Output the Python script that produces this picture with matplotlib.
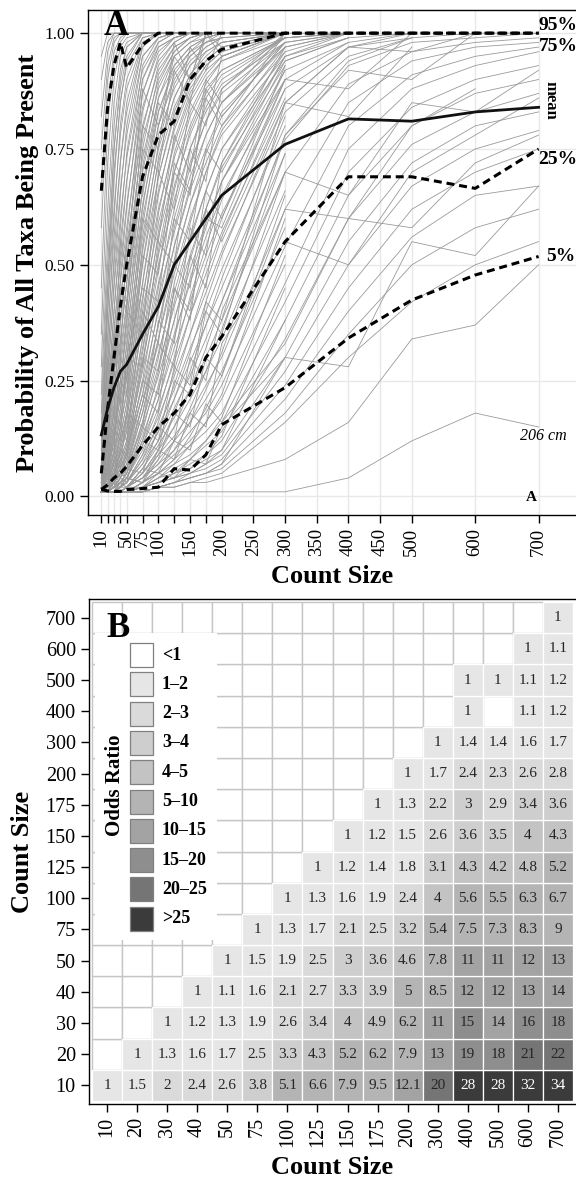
import numpy as np
import matplotlib
matplotlib.use("Agg")
import matplotlib.pyplot as plt
from matplotlib.patches import Rectangle

plt.rcParams.update({
    "font.family": "serif", "font.serif": ["Liberation Serif", "DejaVu Serif"],
    "axes.linewidth": 1.0, "xtick.major.width": 1.0, "ytick.major.width": 1.0,
    "xtick.major.size": 6, "ytick.major.size": 6,
})

# ---------------- panel A data ----------------
COUNTS = [10, 20, 30, 40, 50, 75, 100, 125, 150, 175, 200, 300, 400, 500, 600, 700]
XTICKS = [10, 20, 30, 40, 50, 75, 100, 125, 150, 175, 200, 250, 300, 350, 400,
          450, 500, 600, 700]
XTICK_LABELS = ["10", "", "", "", "50", "75", "100", "", "150", "", "200", "250",
                "300", "350", "400", "450", "500", "600", "700"]

# one list per site, values at COUNTS (a site stops where its list ends)
sites = [
    [.95, 1, 1, 1, 1, 1, 1, 1, 1, 1, 1, 1],
    [.90, .98, 1, 1, 1, 1, 1, 1, 1, 1, 1],
    [.82, .96, 1, 1, 1, 1, 1, 1, 1, 1, 1, 1],
    [.75, .93, .99, 1, 1, 1, 1, 1, 1, 1, 1],
    [.66, .90, .98, 1, 1, 1, 1, 1, 1, 1, 1, 1],
    [.58, .85, .96, .99, 1, 1, 1, 1, 1, 1, 1],
    [.45, .80, .94, .98, 1, 1, 1, 1, 1, 1, 1, 1],
    [.35, .72, .90, .97, .99, 1, 1, 1, 1, 1, 1],
    [.28, .62, .85, .95, .98, 1, 1, 1, 1, 1, 1, 1],
    [.22, .55, .80, .92, .97, 1, 1, 1, 1, 1, 1],
    [.18, .50, .75, .88, .95, 1, 1, 1, 1, 1, 1, 1],
    [.15, .45, .70, .85, .93, .99, 1, 1, 1, 1, 1],
    [.12, .40, .62, .78, .88, .98, 1, 1, 1, 1, 1, 1],
    [.10, .35, .56, .72, .83, .97, 1, 1, 1, 1, 1],
    [.08, .30, .50, .66, .78, .95, .99, 1, 1, 1, 1, 1],
    [.07, .26, .45, .60, .73, .92, .98, 1, 1, 1, 1],
    [.06, .22, .40, .55, .68, .90, .97, .99, 1, 1, 1, 1],
    [.05, .20, .36, .50, .63, .87, .96, .99, 1, 1, 1],
    [.05, .18, .33, .46, .58, .84, .94, .98, 1, 1, 1, 1],
    [.04, .15, .29, .42, .54, .80, .92, .97, .99, 1, 1],
    [.04, .13, .26, .38, .50, .77, .90, .96, .99, 1, 1, 1],
    [.03, .12, .23, .34, .46, .73, .88, .95, .98, .99, 1],
    [.03, .10, .20, .31, .42, .70, .86, .93, .97, .99, 1, 1],
    [.03, .09, .18, .28, .38, .66, .83, .92, .96, .98, 1],
    [.02, .08, .16, .25, .35, .63, .80, .90, .95, .98, .99, 1],
    [.02, .07, .14, .23, .32, .60, .78, .88, .94, .97, .99],
    [.02, .06, .13, .21, .30, .56, .75, .86, .93, .96, .98, 1],
    [.02, .06, .12, .19, .27, .53, .72, .84, .91, .95, .98, 1],
    [.02, .05, .10, .17, .25, .50, .69, .82, .90, .94, .97, 1],
    [.01, .05, .09, .15, .22, .46, .66, .79, .88, .93, .96, 1],
    [.01, .04, .08, .13, .20, .43, .62, .76, .86, .92, .95, 1],
    [.01, .04, .07, .12, .18, .40, .59, .73, .83, .90, .94, .99, 1],
    [.01, .03, .07, .11, .17, .37, .56, .70, .80, .88, .92, .99],
    [.01, .03, .06, .10, .15, .34, .52, .67, .78, .86, .91, .99, 1],
    [.01, .03, .05, .09, .14, .32, .50, .64, .75, .83, .89, .98],
    [.01, .02, .05, .08, .12, .29, .46, .60, .72, .81, .87, .98, 1],
    [.01, .02, .04, .07, .11, .27, .43, .57, .69, .78, .85, .97],
    [.01, .02, .04, .06, .10, .24, .40, .54, .66, .75, .83, .97, 1],
    [.01, .02, .03, .06, .09, .22, .37, .51, .63, .72, .80, .96],
    [.01, .02, .03, .05, .08, .20, .34, .48, .60, .70, .78, .95, .99],
    [.01, .01, .03, .05, .07, .18, .31, .44, .56, .66, .75, .94, .99, 1],
    [.01, .01, .02, .04, .06, .16, .28, .41, .52, .62, .71, .93],
    [.01, .01, .02, .04, .06, .15, .26, .38, .49, .59, .68, .92, .98, 1],
    [.01, .01, .02, .03, .05, .13, .23, .35, .46, .56, .65, .90],
    [.01, .01, .02, .03, .05, .12, .21, .32, .42, .52, .61, .88, .97, .99],
    [.01, .01, .02, .03, .04, .11, .19, .29, .39, .48, .57, .86],
    [.01, .01, .01, .02, .04, .10, .17, .26, .35, .44, .53, .83, .95, .99, 1],
    [.01, .01, .01, .02, .03, .09, .15, .23, .32, .40, .49, .80],
    [.01, .01, .01, .02, .03, .08, .14, .21, .29, .37, .45, .77, .93, .98, .99, 1],
    [.01, .01, .01, .02, .03, .07, .12, .19, .26, .34, .42, .74],
    [.01, .01, .01, .02, .02, .06, .11, .17, .23, .30, .38, .70, .89, .96, .98, .99],
    [.01, .01, .01, .01, .02, .05, .10, .15, .21, .27, .34, .66],
    [.01, .01, .01, .01, .02, .05, .09, .13, .18, .24, .30, .62, .85, .94, .97, .98],
    [.01, .01, .01, .01, .02, .04, .08, .12, .16, .21, .27, .58],
    [.01, .01, .01, .01, .02, .04, .07, .10, .14, .18, .24, .54, .80, .91, .95, .97],
    [.01, .01, .01, .01, .01, .03, .06, .09, .12, .16, .21, .50],
    [.01, .01, .01, .01, .01, .03, .05, .08, .11, .14, .18, .46, .75, .88, .93, .96],
    [.01, .01, .01, .01, .01, .03, .05, .07, .09, .12, .16, .42, .70, .84, .90, .93],
    [.01, .01, .01, .01, .01, .02, .04, .06, .08, .11, .14, .38, .65, .80, .87, .90],
    [.01, .01, .01, .01, .01, .02, .04, .05, .07, .09, .12, .34, .60, .76, .83, .87],
    [.01, .01, .01, .01, .01, .02, .03, .05, .06, .08, .10, .30, .55, .72, .80, .83],
    [.01, .01, .01, .01, .01, .02, .03, .04, .05, .07, .09, .27, .50, .67, .75, .79],
    [.01, .01, .01, .01, .01, .02, .03, .04, .05, .06, .08, .24, .45, .62, .70, .75],
    [.01, .01, .01, .01, .01, .01, .02, .03, .04, .05, .07, .21, .40, .56, .65, .67],
    [.01, .01, .01, .01, .01, .01, .02, .03, .04, .05, .06, .18, .35, .50, .58, .62],
    [.01, .01, .01, .01, .01, .01, .02, .02, .03, .04, .05, .16, .30, .42, .50, .55],
    [.01, .01, .01, .01, .01, .01, .02, .02, .03, .03, .04, .08, .16, .34, .37, .50],
    [.01, .01, .01, .01, .01, .01, .01, .01, .01, .01, .01, .01, .04, .12, .18, .15],
    [.05, .30, .25, .55, .50, .88, .80, .95, .90, 1, .97, 1],
    [.02, .10, .28, .20, .40, .35, .70, .62, .85, .80, .95, 1],
    [.01, .05, .04, .15, .12, .40, .33, .60, .55, .75, .70, .95, 1],
    [.01, .02, .06, .04, .10, .22, .18, .45, .38, .62, .55, .85, .97, .96, 1, 1],
    [.01, .01, .03, .02, .06, .05, .15, .12, .30, .25, .40, .70, .65, .85, .83, .92],
    [.01, .03, .02, .08, .06, .20, .33, .28, .52, .45, .68, .90],
    [.03, .12, .10, .30, .25, .60, .55, .78, .70, .90, .85, 1],
    [.01, .01, .02, .02, .04, .03, .10, .08, .18, .15, .33, .55, .50, .70, .78, .86],
    [.01, .01, .01, .03, .02, .06, .05, .12, .10, .20, .16, .33, .60, .58, .72, .78],
    [.02, .08, .18, .15, .30, .45, .42, .70, .65, .88, .82, .98],
    [.01, .04, .03, .10, .09, .25, .22, .45, .40, .60, .58, .90, .88, 1],
    [.01, .01, .01, .01, .02, .02, .05, .04, .08, .07, .15, .30, .28, .55, .52, .67],
    [.10, .45, .75, .90, .97, 1, 1, 1, 1, 1, 1],
    [.08, .40, .68, .85, .94, 1, 1, 1, 1, 1, 1, 1],
    [.06, .33, .60, .80, .90, .99, 1, 1, 1, 1, 1],
    [.05, .28, .52, .72, .85, .98, 1, 1, 1, 1, 1, 1],
    [.04, .24, .46, .65, .80, .97, 1, 1, 1, 1, 1],
    [.03, .20, .40, .58, .74, .95, .99, 1, 1, 1, 1, 1],
    [.03, .17, .35, .52, .68, .93, .99, 1, 1, 1, 1],
    [.02, .14, .30, .47, .62, .90, .98, 1, 1, 1, 1, 1],
    [.02, .12, .26, .42, .56, .87, .97, .99, 1, 1, 1],
    [.02, .10, .22, .37, .51, .83, .95, .99, 1, 1, 1, 1],
    [.01, .08, .19, .33, .46, .79, .93, .98, 1, 1, 1],
    [.01, .07, .16, .29, .41, .75, .91, .97, .99, 1, 1, 1],
    [.01, .06, .14, .25, .37, .71, .89, .96, .99, 1, 1],
    [.01, .05, .12, .22, .33, .67, .86, .95, .98, 1, 1, 1],
    [.01, .04, .10, .19, .29, .62, .83, .93, .97, .99, 1],
    [.01, .04, .09, .17, .26, .58, .80, .91, .96, .99, 1, 1],
    [.01, .03, .08, .15, .23, .54, .76, .89, .95, .98, .99],
    [.01, .03, .07, .13, .20, .50, .73, .86, .93, .97, .99, 1],
    [.01, .02, .06, .11, .18, .46, .69, .83, .91, .96, .98, 1],
    [.01, .02, .05, .10, .16, .42, .65, .80, .89, .94, .97, 1],
    [.01, .02, .05, .09, .14, .38, .61, .77, .87, .93, .96, 1],
    [.01, .02, .04, .08, .12, .34, .57, .74, .85, .91, .95, 1, 1],
    [.01, .01, .04, .07, .11, .31, .53, .70, .82, .89, .94, 1],
    [.01, .01, .03, .06, .10, .28, .49, .66, .79, .87, .92, .99, 1],
    [.01, .01, .03, .05, .09, .25, .45, .62, .75, .84, .90, .99],
    [.01, .01, .03, .05, .08, .22, .41, .58, .71, .81, .88, .99, 1],
    [.01, .01, .02, .04, .07, .20, .37, .54, .67, .78, .85, .98],
    [.01, .01, .02, .04, .06, .18, .34, .50, .63, .74, .82, .98, 1],
    [.01, .01, .02, .03, .05, .16, .30, .46, .59, .70, .79, .97],
    [.01, .01, .02, .03, .05, .14, .27, .42, .55, .66, .75, .96, 1],
    [.01, .01, .01, .03, .04, .12, .24, .38, .51, .62, .72, .95],
    [.01, .01, .01, .02, .04, .11, .21, .34, .47, .58, .68, .94, .99],
    [.01, .01, .01, .02, .03, .09, .18, .30, .43, .54, .64, .92],
    [.01, .01, .01, .02, .03, .08, .16, .27, .39, .50, .60, .90, .98],
    [.01, .01, .01, .02, .03, .07, .14, .24, .35, .46, .56, .88],
    [.01, .01, .01, .01, .02, .06, .12, .21, .31, .42, .52, .85, .97, 1],
    [.01, .01, .01, .01, .02, .05, .10, .18, .27, .37, .47, .82],
    [.01, .01, .01, .01, .02, .04, .09, .15, .23, .32, .42, .78, .94, .99],
    [.01, .01, .01, .01, .02, .04, .07, .12, .19, .27, .36, .74],
    [.01, .01, .01, .01, .01, .03, .06, .10, .16, .23, .31, .70],
    [.01, .01, .01, .01, .01, .03, .05, .08, .13, .19, .26, .65],
    [.01, .01, .01, .01, .01, .02, .04, .07, .11, .16, .22, .60],
    [.01, .01, .01, .01, .01, .02, .03, .05, .08, .12, .17, .52],
    [.01, .01, .01, .01, .01, .02, .03, .04, .06, .09, .13, .45],
    [.01, .01, .01, .01, .01, .01, .02, .03, .05, .07, .10, .38],
    [.01, .01, .01, .01, .01, .01, .02, .03, .04, .05, .07, .30],
    [.04, .20, .18, .45, .40, .75, .70, .92, .85, 1, .95, 1],
    [.02, .15, .35, .30, .55, .65, .85, .80, .97, .92, 1, 1],
    [.01, .06, .15, .12, .30, .28, .55, .50, .75, .68, .88, 1],
    [.01, .02, .08, .06, .18, .15, .38, .33, .58, .52, .72, .97, 1],
    [.01, .01, .02, .05, .04, .12, .10, .25, .22, .40, .35, .78, .92, .90, 1],
    [.01, .01, .01, .02, .04, .03, .08, .18, .15, .30, .26, .62, .60, .80, .88],
    [.02, .12, .30, .45, .42, .80, .75, .98, .90, 1, 1],
    [.01, .04, .12, .25, .22, .52, .48, .72, .66, .86, .80, 1],
    [.01, .01, .04, .10, .08, .30, .27, .50, .45, .66, .60, .93],
    [.01, .01, .01, .04, .03, .15, .12, .28, .24, .42, .38, .85, .82, .97],
]

q95 = [.66, .84, .93, .98, .925, .975, 1, 1, 1, 1, 1, 1, 1, 1, 1, 1]
q75 = [.05, .19, .30, .41, .50, .69, .78, .81, .90, .94, .965, 1, 1, 1, 1, 1]
q25 = [.015, .025, .04, .05, .065, .11, .15, .18, .22, .30, .345, .55, .69, .69, .665, .75]
q05 = [.015, .012, .011, .011, .015, .017, .02, .06, .057, .09, .155, .235, .342, .424, .478, .518]
mean = [.133, .19, .235, .27, .285, .35, .41, .50, .55, .60, .65, .76, .815, .81, .83, .84]

# ---------------- panel B data ----------------
SIZES = ["10", "20", "30", "40", "50", "75", "100", "125", "150", "175", "200",
         "300", "400", "500", "600", "700"]
nan = np.nan
odds = [  # rows bottom (10) to top (700), columns 10..700
    [1, 1.5, 2, 2.4, 2.6, 3.8, 5.1, 6.6, 7.9, 9.5, 12.1, 20, 28, 28, 32, 34],
    [nan, 1, 1.3, 1.6, 1.7, 2.5, 3.3, 4.3, 5.2, 6.2, 7.9, 13, 19, 18, 21, 22],
    [nan, nan, 1, 1.2, 1.3, 1.9, 2.6, 3.4, 4, 4.9, 6.2, 11, 15, 14, 16, 18],
    [nan, nan, nan, 1, 1.1, 1.6, 2.1, 2.7, 3.3, 3.9, 5, 8.5, 12, 12, 13, 14],
    [nan] * 4 + [1, 1.5, 1.9, 2.5, 3, 3.6, 4.6, 7.8, 11, 11, 12, 13],
    [nan] * 5 + [1, 1.3, 1.7, 2.1, 2.5, 3.2, 5.4, 7.5, 7.3, 8.3, 9],
    [nan] * 6 + [1, 1.3, 1.6, 1.9, 2.4, 4, 5.6, 5.5, 6.3, 6.7],
    [nan] * 7 + [1, 1.2, 1.4, 1.8, 3.1, 4.3, 4.2, 4.8, 5.2],
    [nan] * 8 + [1, 1.2, 1.5, 2.6, 3.6, 3.5, 4, 4.3],
    [nan] * 9 + [1, 1.3, 2.2, 3, 2.9, 3.4, 3.6],
    [nan] * 10 + [1, 1.7, 2.4, 2.3, 2.6, 2.8],
    [nan] * 11 + [1, 1.4, 1.4, 1.6, 1.7],
    [nan] * 12 + [1, nan, 1.1, 1.2],
    [nan] * 12 + [1, 1, 1.1, 1.2],
    [nan] * 14 + [1, 1.1],
    [nan] * 15 + [1],
]
BIN_EDGES = [1, 2, 3, 4, 5, 10, 15, 20, 25]
BIN_LABELS = ["<1", "1\u20132", "2\u20133", "3\u20134", "4\u20135", "5\u201310",
              "10\u201315", "15\u201320", "20\u201325", ">25"]
BIN_COLORS = ["#ffffff", "#e6e6e6", "#dadada", "#cecece", "#c3c3c3", "#b4b4b4",
              "#a3a3a3", "#8e8e8e", "#757575", "#3b3b3b"]

W, H = 576, 1180
fig = plt.figure(figsize=(W / 100, H / 100), dpi=100)

# ================= panel A =================
axA = fig.add_axes([88 / W, 1 - 515 / H, 1 - 88 / W, 505 / H])
for s in sites:
    axA.plot(COUNTS[:len(s)], s, color="#9a9a9a", lw=0.6, zorder=2)
dash = (0, (2.6, 1.6))
for q in (q95, q75, q25, q05):
    axA.plot(COUNTS, q, color="black", lw=2.2, ls=dash, zorder=4)
axA.plot(COUNTS, mean, color="#111111", lw=2.0, zorder=4)

axA.set_xlim(-11, 759)
axA.set_ylim(-0.04, 1.05)
axA.set_xticks(XTICKS)
axA.set_xticklabels(XTICK_LABELS, rotation=90, fontsize=13.5)
axA.set_yticks([0, 0.25, 0.5, 0.75, 1.0])
axA.set_yticklabels(["0.00", "0.25", "0.50", "0.75", "1.00"], fontsize=12.5)
axA.grid(True, color="#e8e8e8", lw=1.0)
axA.set_axisbelow(True)
axA.spines["right"].set_visible(False)
axA.set_xlabel("Count Size", fontsize=19, fontweight="bold", labelpad=6)
axA.set_ylabel("Probability of All Taxa Being Present", fontsize=19,
               fontweight="bold", labelpad=4)

lab = dict(fontsize=14, fontweight="bold", zorder=6)
axA.text(700, 1.007, "95%", ha="left", va="baseline", **lab)
axA.text(700, 0.962, "75%", ha="left", va="baseline", **lab)
axA.text(700, 0.727, "25%", ha="left", va="center", **lab)
axA.text(712, 0.517, "5%", ha="left", va="center", **lab)
axA.text(718, 0.856, "mean", rotation=270, ha="center", va="center",
         fontsize=12, fontweight="bold")
axA.text(707, 0.131, "206 cm", ha="center", va="center", fontsize=11.5,
         style="italic")
axA.text(688, -0.003, "A", ha="center", va="center", fontsize=11,
         fontweight="bold")
axA.text(0.031, 0.951, "A", transform=axA.transAxes, fontsize=25,
         fontweight="bold", ha="left", va="baseline", zorder=7)

# ================= panel B =================
axB = fig.add_axes([89 / W, 1 - 1104 / H, 1 - 89 / W, 505 / H])
vals = np.array(odds, dtype=float)
n = len(SIZES)
for r in range(n):
    for c in range(n):
        v = vals[r, c]
        if np.isnan(v):
            axB.add_patch(Rectangle((c - 0.5, r - 0.5), 1, 1, facecolor="white",
                                    edgecolor="#c6c6c6", lw=1.0, zorder=1))
for r in range(n):
    for c in range(n):
        v = vals[r, c]
        if np.isnan(v):
            continue
        b = int(np.digitize(v, BIN_EDGES))
        axB.add_patch(Rectangle((c - 0.5, r - 0.5), 1, 1,
                                facecolor=BIN_COLORS[b], edgecolor="white",
                                lw=0.9, zorder=2))
        axB.text(c, r, "%g" % v, ha="center", va="center", fontsize=11,
                 color="white" if b == 9 else "#262626", zorder=3)

axB.set_xlim(-0.6, n - 0.4)
axB.set_ylim(-0.6, n - 0.4)
axB.set_xticks(range(n))
axB.set_xticklabels(SIZES, rotation=90, fontsize=14.5)
axB.set_yticks(range(n))
axB.set_yticklabels(SIZES, fontsize=14.5)
axB.spines["right"].set_visible(False)
axB.set_xlabel("Count Size", fontsize=19, fontweight="bold", labelpad=6)
axB.set_ylabel("Count Size", fontsize=19, fontweight="bold", labelpad=8)

# legend drawn by hand: vertical title on the left, keys stacked
axw, axh = 487.0, 505.0
axB.add_patch(Rectangle((6 / axw, 164 / axh), 122 / axw, 307 / axh,
                        transform=axB.transAxes, facecolor="white",
                        edgecolor="none", zorder=5))
for i, (lbl, col) in enumerate(zip(BIN_LABELS, BIN_COLORS)):
    y0 = (437 - 29.3 * i) / axh
    axB.add_patch(Rectangle((41 / axw, y0), 23 / axw, 24 / axh,
                            transform=axB.transAxes, facecolor=col,
                            edgecolor="#808080", lw=0.9, zorder=6))
    axB.text(73 / axw, y0 + 12 / axh, lbl, transform=axB.transAxes,
             fontsize=13, fontweight="bold", ha="left", va="center", zorder=7)
axB.text(26 / axw, 319 / axh, "Odds Ratio", transform=axB.transAxes,
         rotation=90, fontsize=15, fontweight="bold", ha="center",
         va="center", zorder=7)
axB.text(0.035, 0.925, "B", transform=axB.transAxes, fontsize=25,
         fontweight="bold", ha="left", va="baseline", zorder=7)

fig.savefig("out.png", dpi=100)
